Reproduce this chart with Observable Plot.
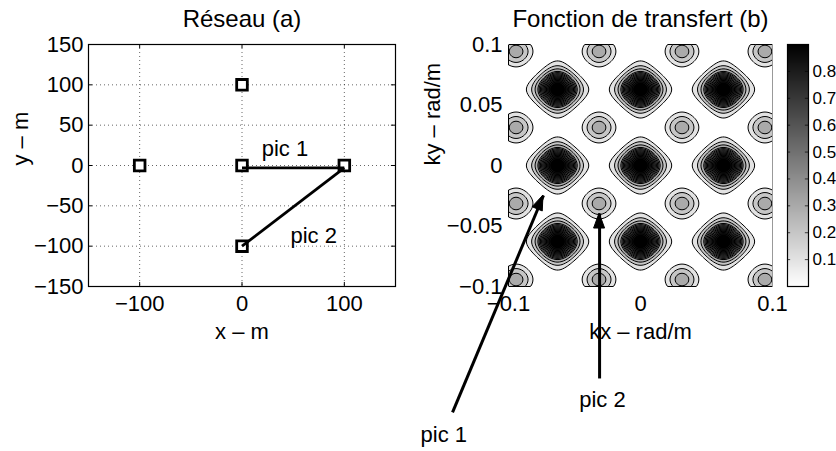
<!DOCTYPE html>
<html><head><meta charset="utf-8">
<script src="https://cdn.jsdelivr.net/npm/d3@7"></script>
<script src="https://cdn.jsdelivr.net/npm/@observablehq/plot@0.6"></script>
<style>
html,body{margin:0;padding:0;background:#fff;}
#wrap{position:relative;width:836px;height:451px;overflow:hidden;background:#fff;}
#wrap svg{position:absolute;top:0;}
</style></head><body><div id="wrap"></div>
<script>
// ---- Panel (a): array geometry ----
const sensorX = [0, -100, 0, 100, 0];
const sensorY = [100, 0, 0, 0, -100];
const baseLabels = ["pic 1", "pic 2"];
const baseX1 = [0, 0];
const baseY1 = [-3, -100];
const baseX2 = [100, 100];
const baseY2 = [-3, -3];
const baseLabelX = [42, 70];
const baseLabelY = [21, -87];
const arrayXTicks = [-100, 0, 100];
const arrayYTicks = [-150, -100, -50, 0, 50, 100, 150];
const arrayGridY = [-100, -50, 0, 50, 100];

// ---- Panel (b): transfer function ----
const kTicksX = [-0.1, 0, 0.1];
const kTicksY = [-0.1, -0.05, 0, 0.05, 0.1];
const contourLevels = [0.1, 0.2, 0.3, 0.4, 0.45, 0.5, 0.55, 0.6, 0.65, 0.7, 0.75, 0.8, 0.85, 0.9, 0.95];
const colorbarTicks = [0.1, 0.2, 0.3, 0.4, 0.5, 0.6, 0.7, 0.8];
const colorMax = 0.9;
const arrowLabels = ["pic 1", "pic 2"];
const arrowTailKx = [-0.1424, -0.031];
const arrowTailKy = [-0.204, -0.176];
const arrowTipKx = [-0.0735, -0.031];
const arrowTipKy = [-0.0248, -0.0397];
const arrowLabelKx = [-0.149, -0.0288];
const arrowLabelKy = [-0.223, -0.194];

// array response |sum exp(i k.r)|^2 / N^2 computed from the sensor positions
function transfer(kx, ky) {
  let re = 0, im = 0;
  for (let i = 0; i < sensorX.length; i++) {
    const ph = kx * sensorX[i] + ky * sensorY[i];
    re += Math.cos(ph); im += Math.sin(ph);
  }
  const n = sensorX.length;
  return (re * re + im * im) / (n * n);
}

const FONT = '"Liberation Sans", Arial, Helvetica, sans-serif';
const baseStyle = (fs) => ({fontFamily: FONT, fontSize: fs + "px", color: "black", background: "transparent", overflow: "visible"});
const colorScale = {type: "linear", domain: [0, colorMax], range: ["white", "black"], interpolate: "rgb", clamp: true};
const fmt = d3.format("~g");

const left = Plot.plot({
  width: 420, height: 451,
  marginLeft: 88, marginRight: 25, marginTop: 44, marginBottom: 165,
  x: {domain: [-150, 150], ticks: arrayXTicks, tickSize: 0, tickPadding: 9, tickFormat: fmt, label: null},
  y: {domain: [-150, 150], ticks: arrayYTicks, tickSize: 0, tickPadding: 5, tickFormat: fmt, label: null},
  style: baseStyle(22),
  marks: [
    Plot.ruleX(arrayXTicks, {stroke: "black", strokeOpacity: 0.6, strokeDasharray: "1,3"}),
    Plot.ruleY(arrayGridY, {stroke: "black", strokeOpacity: 0.6, strokeDasharray: "1,3"}),
    Plot.ruleX(arrayXTicks, {y1: -150, y2: -145, stroke: "black"}),
    Plot.ruleX(arrayXTicks, {y1: 150, y2: 145, stroke: "black"}),
    Plot.ruleY(arrayYTicks, {x1: -150, x2: -146, stroke: "black"}),
    Plot.ruleY(arrayYTicks, {x1: 150, x2: 146, stroke: "black"}),
    Plot.frame({stroke: "black", strokeWidth: 1.2}),
    Plot.dot(sensorX, {x: sensorX, y: sensorY, symbol: "square", r: 6, stroke: "black", strokeWidth: 2.8, fill: "white"}),
    Plot.link(baseLabels, {x1: baseX1, y1: baseY1, x2: baseX2, y2: baseY2, stroke: "black", strokeWidth: 2.8}),
    Plot.text(baseLabels, {x: baseLabelX, y: baseLabelY, fontSize: 22}),
    Plot.text(["Réseau (a)"], {frameAnchor: "top", lineAnchor: "middle", dy: -25, fontSize: 24}),
    Plot.text(["x – m"], {frameAnchor: "bottom", lineAnchor: "middle", dy: 45, fontSize: 22}),
    Plot.text(["y – m"], {frameAnchor: "left", lineAnchor: "middle", rotate: -90, dx: -68, fontSize: 22})
  ]
});

const arrowHeads = (index, scales) => {
  const g = d3.create("svg:g");
  const L = 15, W = 11;
  for (let i = 0; i < arrowLabels.length; i++) {
    const tx = scales.x(arrowTipKx[i]), ty = scales.y(arrowTipKy[i]);
    const sx = scales.x(arrowTailKx[i]), sy = scales.y(arrowTailKy[i]);
    const len = Math.hypot(tx - sx, ty - sy);
    const ux = (tx - sx) / len, uy = (ty - sy) / len;
    const bx = tx - L * ux, by = ty - L * uy;
    const px = -uy, py = ux;
    g.append("path")
      .attr("d", `M${tx},${ty}L${bx + px * W / 2},${by + py * W / 2}L${bx - px * W / 2},${by - py * W / 2}Z`)
      .attr("fill", "black").attr("stroke", "black").attr("stroke-width", 1);
  }
  return g.node();
};

const right = Plot.plot({
  width: 416, height: 451,
  marginLeft: 88, marginRight: 64, marginTop: 44, marginBottom: 165,
  x: {domain: [-0.1, 0.1], ticks: kTicksX, tickSize: 0, tickPadding: 9, tickFormat: fmt, label: null},
  y: {domain: [-0.1, 0.1], ticks: kTicksY, tickSize: 0, tickPadding: 6, tickFormat: fmt, label: null},
  color: colorScale,
  style: baseStyle(22),
  marks: [
    Plot.contour({fill: transfer, x1: -0.1, y1: -0.1, x2: 0.1, y2: 0.1, thresholds: contourLevels, stroke: "black", strokeWidth: 1, pixelSize: 1}),
    Plot.ruleX([0.1], {stroke: "#999", strokeWidth: 1}),
    Plot.text(["Fonction de transfert (b)"], {frameAnchor: "top", lineAnchor: "middle", dy: -25, fontSize: 24}),
    Plot.text(["kx – rad/m"], {frameAnchor: "bottom", lineAnchor: "middle", dy: 45, fontSize: 22}),
    Plot.text(["ky – rad/m"], {frameAnchor: "left", lineAnchor: "middle", rotate: -90, dx: -76, fontSize: 22}),
    Plot.link(arrowLabels, {x1: arrowTailKx, y1: arrowTailKy, x2: arrowTipKx, y2: arrowTipKy, stroke: "black", strokeWidth: 3}),
    arrowHeads,
    Plot.text(arrowLabels, {x: arrowLabelKx, y: arrowLabelKy, fontSize: 22})
  ]
});

const cb = Plot.plot({
  width: 66, height: 451,
  marginLeft: 17, marginRight: 28, marginTop: 44, marginBottom: 165,
  x: {domain: [0, 1], axis: null},
  y: {domain: [0, colorMax], ticks: colorbarTicks, tickSize: 0, tickPadding: 4, tickFormat: fmt, axis: "right", label: null},
  color: colorScale,
  style: baseStyle(17),
  marks: [
    Plot.raster({fill: (x, y) => y, x1: 0, x2: 1, y1: 0, y2: colorMax, pixelSize: 1}),
    Plot.ruleY(colorbarTicks, {x1: 0, x2: 0.15, stroke: "black", strokeOpacity: 0.7}),
    Plot.ruleY(colorbarTicks, {x1: 0.85, x2: 1, stroke: "black", strokeOpacity: 0.7}),
    Plot.frame({stroke: "black", strokeWidth: 1.2})
  ]
});

const wrap = document.getElementById("wrap");
left.style.left = "0px";
right.style.left = "420px";
cb.style.left = "770px";
wrap.append(left, right, cb);
</script></body></html>
